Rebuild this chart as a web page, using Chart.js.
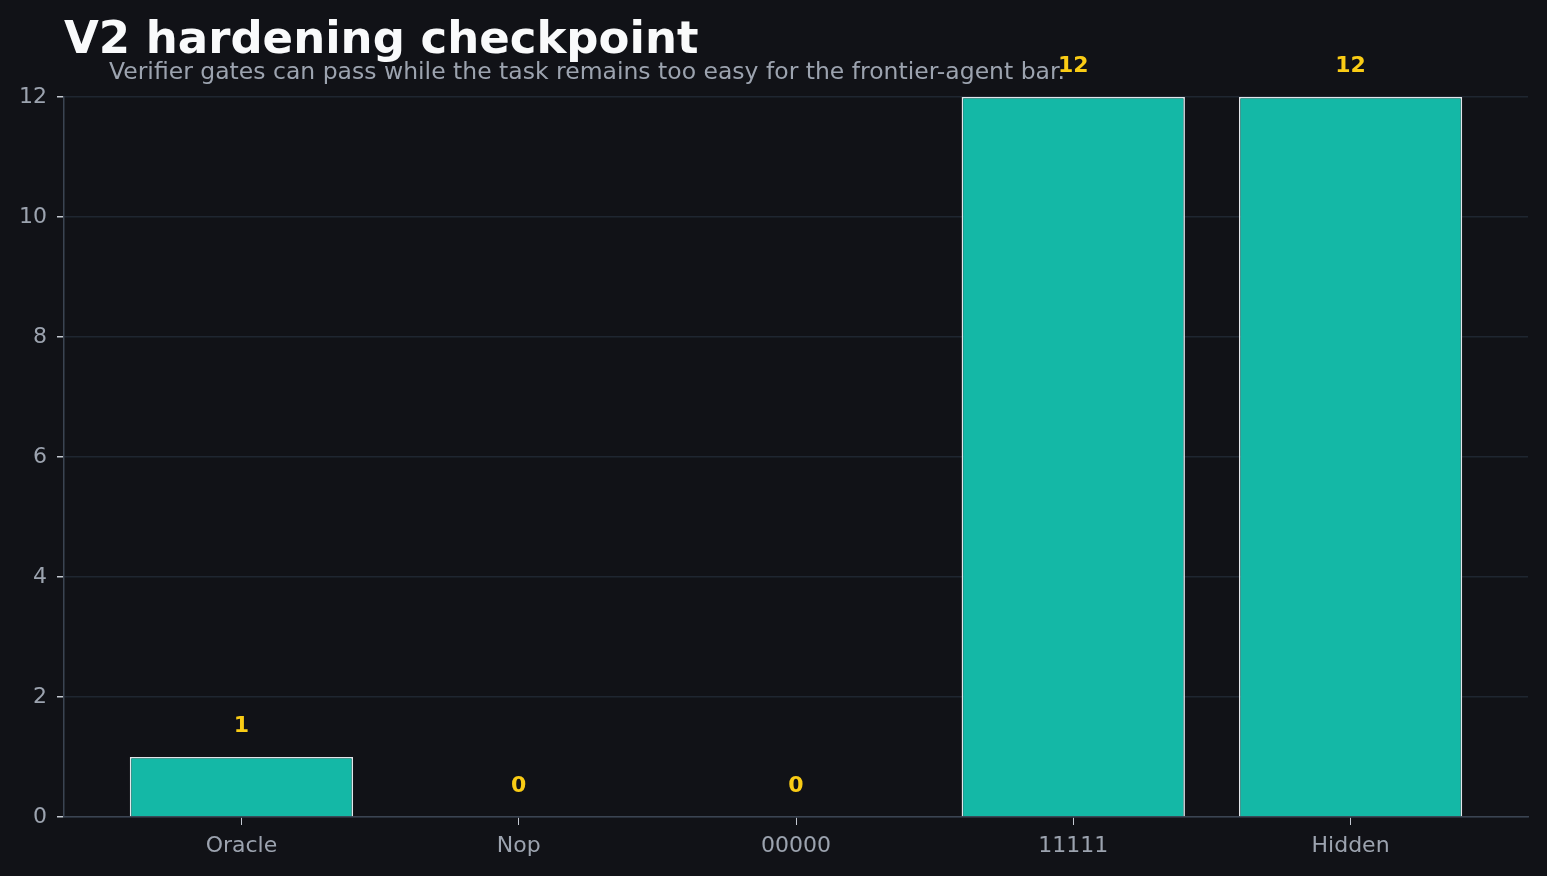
<!DOCTYPE html>
<html>
<head>
<meta charset="utf-8">
<script src="https://cdn.jsdelivr.net/npm/chart.js@4/dist/chart.umd.min.js"></script>
<style>
html,body{margin:0;padding:0;background:#111217;}
#wrap{position:relative;width:1547px;height:876px;}
canvas{display:block;}
</style>
</head>
<body>
<div id="wrap"><canvas id="c" width="1547" height="876"></canvas></div>
<script>
const titleText = "V2 hardening checkpoint";
const subtitleText = "Verifier gates can pass while the task remains too easy for the frontier-agent bar.";
const categories = ["Oracle", "Nop", "00000", "11111", "Hidden"];
const passCounts = [1, 0, 0, 12, 12];
const yTicks = [0, 2, 4, 6, 8, 10, 12];

const FONT = "'DejaVu Sans', sans-serif";

const overlay = {
  id: 'overlay',
  afterDraw(chart) {
    const ctx = chart.ctx;
    const xs = chart.scales.x, ys = chart.scales.y;
    ctx.save();
    ctx.textAlign = 'center';
    ctx.textBaseline = 'middle';
    ctx.fillStyle = '#facc15';
    ctx.font = "bold 22px " + FONT;
    passCounts.forEach((v, i) => {
      ctx.fillText(String(v), xs.getPixelForValue(i), ys.getPixelForValue(v) - 30.5);
    });
    ctx.textAlign = 'left';
    ctx.textBaseline = 'alphabetic';
    ctx.fillStyle = '#f9fafb';
    ctx.font = "bold 45px " + FONT;
    ctx.fillText(titleText, 64, 53);
    ctx.fillStyle = '#9ca3af';
    ctx.font = "23.5px " + FONT;
    ctx.fillText(subtitleText, 109, 79);
    ctx.restore();
  }
};

new Chart(document.getElementById('c'), {
  type: 'bar',
  data: {
    datasets: [{
      data: passCounts.map((v, i) => ({x: i, y: v})),
      backgroundColor: '#14b8a6',
      borderColor: '#e2e5ea',
      borderWidth: 1.6,
      barPercentage: 0.8054,
      categoryPercentage: 1.0
    }]
  },
  options: {
    responsive: false,
    animation: false,
    devicePixelRatio: 1,
    layout: {padding: {left: 0, top: 97, right: 19, bottom: 0}},
    plugins: {legend: {display: false}, tooltip: {enabled: false}},
    scales: {
      x: {
        type: 'linear',
        min: -0.64,
        max: 4.64,
        offset: false,
        afterBuildTicks(s) { s.ticks = categories.map((_, i) => ({value: i})); },
        afterFit(s) { s.height = 59; },
        grid: {display: true, drawOnChartArea: false, drawTicks: true, tickLength: 8, tickColor: '#c5cad3', offset: false},
        border: {display: true, color: '#3b4452', width: 1.5},
        ticks: {
          autoSkip: false,
          maxRotation: 0,
          padding: 8,
          color: '#9ca3af',
          font: {family: FONT, size: 22},
          callback: (v) => categories[v] ?? ''
        }
      },
      y: {
        min: 0,
        max: 12,
        afterBuildTicks(s) { s.ticks = yTicks.map(v => ({value: v})); },
        afterFit(s) { s.width = 64; },
        grid: {color: '#1f2631', lineWidth: 1.5, tickLength: 7, tickColor: '#c5cad3'},
        border: {display: true, color: '#3b4452', width: 1.5},
        ticks: {
          padding: 10,
          color: '#9ca3af',
          font: {family: FONT, size: 22}
        }
      }
    }
  },
  plugins: [overlay]
});
</script>
</body>
</html>
